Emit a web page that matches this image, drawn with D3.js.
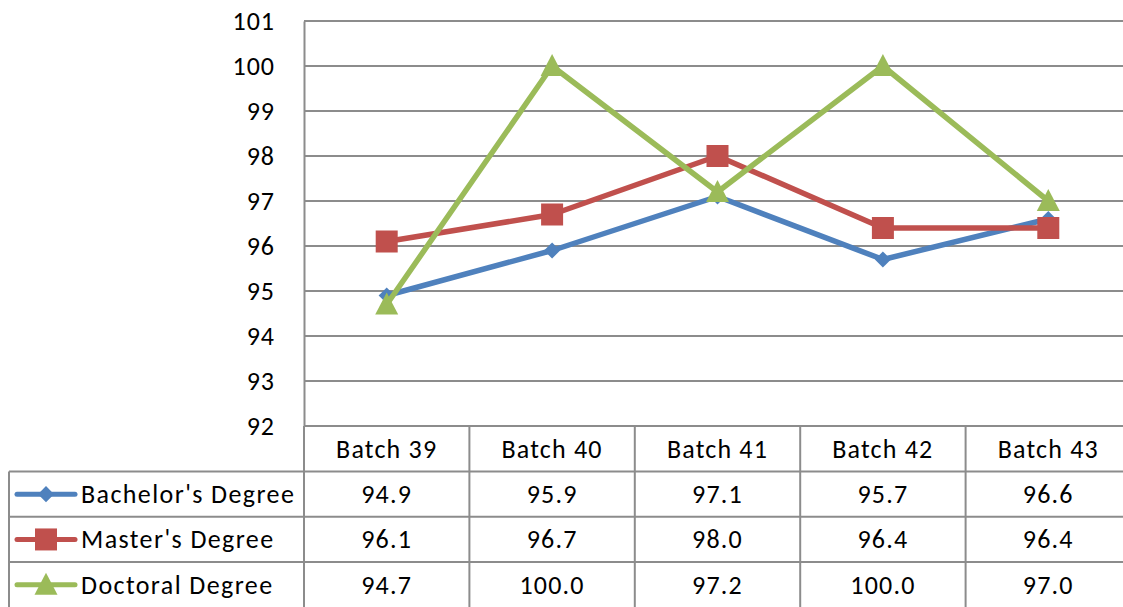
<!DOCTYPE html>
<html><head><meta charset="utf-8">
<script src="https://cdn.jsdelivr.net/npm/d3@7"></script>
<style>body{margin:0;background:#fff}svg{display:block}</style>
</head><body>
<svg id="c" width="1123" height="607"></svg>
<script>
const categories = ["Batch 39","Batch 40","Batch 41","Batch 42","Batch 43"];
const seriesNames = ["Bachelor's Degree","Master's Degree","Doctoral Degree"];
const bachelor = [94.9,95.9,97.1,95.7,96.6];
const master = [96.1,96.7,98.0,96.4,96.4];
const doctoral = [94.7,100.0,97.2,100.0,97.0];
const yTicks = [92,93,94,95,96,97,98,99,100,101];
const colors = ["#4F81BD","#C0504D","#9BBB59"];
const markers = ["diamond","square","triangle"];
const series = [bachelor, master, doctoral];

(function(){
const svg = d3.select("#c");
const font = "Calibri, Carlito, 'Open Sans', sans-serif";
const fs = 26, ls = 1.4;
const pLeft = 304, pRight = 1131, pTop = 21, pBottom = 426;
const x = d3.scaleBand().domain(categories).range([pLeft, pRight]);
const y = d3.scaleLinear().domain([92,101]).range([pBottom, pTop]);
const rowH = 45.3;
const tableTop = pBottom, headerBottom = 471.5;
const grid = "#8c8c8c";

svg.append("g").selectAll("line").data(yTicks).join("line")
  .attr("x1", pLeft).attr("x2", pRight)
  .attr("y1", d => y(d)).attr("y2", d => y(d))
  .attr("stroke", grid).attr("stroke-width", 2);
const yAxis = d3.axisLeft(y).tickValues(yTicks).tickSize(0).tickPadding(29);
const gy = svg.append("g").attr("transform", `translate(${pLeft},0)`).call(yAxis);
gy.select(".domain").attr("stroke", grid).attr("stroke-width", 2);
gy.selectAll("text").attr("font-family", font).attr("font-size", fs).attr("letter-spacing", 1.0).attr("fill", "#000");

const tg = svg.append("g").attr("stroke", grid).attr("stroke-width", 2);
categories.forEach(c => {
  tg.append("line").attr("x1", x(c)).attr("x2", x(c)).attr("y1", tableTop).attr("y2", 607);
});
tg.append("line").attr("x1", pRight).attr("x2", pRight).attr("y1", tableTop).attr("y2", 607);
tg.append("line").attr("x1", 9).attr("x2", 9).attr("y1", headerBottom).attr("y2", 607);
for (let i = 0; i < 3; i++) {
  const yy = headerBottom + i * rowH;
  tg.append("line").attr("x1", 9).attr("x2", pRight).attr("y1", yy).attr("y2", yy);
}

svg.append("g").selectAll("text").data(categories).join("text")
  .attr("x", d => x(d) + x.bandwidth()/2).attr("y", (tableTop + headerBottom)/2)
  .attr("text-anchor", "middle").attr("dominant-baseline", "central")
  .attr("font-family", font).attr("font-size", fs).attr("letter-spacing", 1.2).text(d => d);

function sym(g, type, cx, cy, color) {
  if (type === "diamond") {
    g.append("path").attr("d", d3.symbol(d3.symbolDiamond2, 165)())
      .attr("transform", `translate(${cx},${cy})`).attr("fill", color);
  } else if (type === "square") {
    g.append("rect").attr("x", cx-11).attr("y", cy-11).attr("width", 22).attr("height", 22).attr("fill", color);
  } else {
    g.append("path").attr("d", `M${cx},${cy-12}L${cx+11.5},${cy+10}L${cx-11.5},${cy+10}Z`).attr("fill", color);
  }
}

series.forEach((vals, i) => {
  const cy = headerBottom + rowH * i + rowH/2;
  const g = svg.append("g");
  g.append("line").attr("x1", 17).attr("x2", 75).attr("y1", cy).attr("y2", cy)
    .attr("stroke", colors[i]).attr("stroke-width", 5).attr("stroke-linecap", "round");
  sym(g, markers[i], 46, cy, colors[i]);
  g.append("text").attr("x", 81).attr("y", cy).attr("dominant-baseline", "central")
    .attr("font-family", font).attr("font-size", fs).attr("letter-spacing", ls)
    .text(seriesNames[i]);
  g.selectAll("text.v").data(vals).join("text").attr("class", "v")
    .attr("x", (d, j) => x(categories[j]) + x.bandwidth()/2).attr("y", cy)
    .attr("text-anchor", "middle").attr("dominant-baseline", "central")
    .attr("font-family", font).attr("font-size", fs).attr("letter-spacing", 1.2).text(d => d.toFixed(1));
});

const line = d3.line().x((d, j) => x(categories[j]) + x.bandwidth()/2).y(d => y(d));
series.forEach((vals, i) => {
  svg.append("path").datum(vals).attr("d", line).attr("fill", "none")
    .attr("stroke", colors[i]).attr("stroke-width", 5.5).attr("stroke-linejoin", "round");
  const g = svg.append("g");
  vals.forEach((v, j) => sym(g, markers[i], x(categories[j]) + x.bandwidth()/2, y(v), colors[i]));
});
})();
</script>
</body></html>
